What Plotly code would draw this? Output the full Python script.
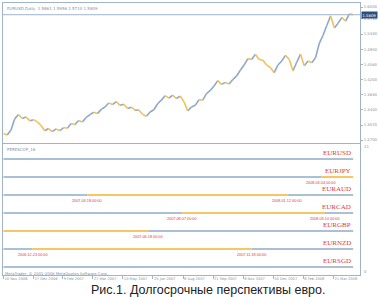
import numpy as np
import plotly.graph_objects as go

W, H = 378, 297

# ---------------- data ----------------
START = "2006-11-10"
HOLIDAYS = ["2006-12-25", "2007-01-01", "2007-12-25", "2008-01-01"]
STEP = 4  # one close read every 4th daily bar

close = [1.2862, 1.2825, 1.2950, 1.3230, 1.3330, 1.3235, 1.3270, 1.3180, 1.3205, 1.3150,
         1.3060, 1.2930, 1.2985, 1.2910, 1.2975, 1.2930, 1.3010, 1.2990, 1.3110, 1.3085,
         1.3185, 1.3150, 1.3260, 1.3330, 1.3390, 1.3355, 1.3460, 1.3520, 1.3620, 1.3580,
         1.3655, 1.3560, 1.3590, 1.3480, 1.3515, 1.3440, 1.3445, 1.3340, 1.3290, 1.3395,
         1.3450, 1.3600, 1.3690, 1.3800, 1.3740, 1.3815, 1.3730, 1.3790, 1.3650, 1.3420,
         1.3520, 1.3560, 1.3700, 1.3690, 1.3850, 1.3930, 1.4040, 1.4175, 1.4080, 1.4130,
         1.4090, 1.4200, 1.4290, 1.4430, 1.4560, 1.4720, 1.4700, 1.4830, 1.4700, 1.4680,
         1.4560, 1.4500, 1.4370, 1.4560, 1.4660, 1.4800, 1.4700, 1.4420, 1.4630, 1.4830,
         1.4540, 1.4660, 1.4620, 1.4740, 1.5100, 1.5300, 1.5540, 1.5780, 1.5480, 1.5600,
         1.5740, 1.5650, 1.5830, 1.5809]

title_text = "EURUSD,Daily  1.5861 1.5956 1.5710 1.5809"
last_price = 1.5809
price_ticks = [1.6000, 1.5710, 1.5330, 1.4950, 1.4580, 1.4200, 1.3830, 1.3450, 1.3070, 1.2700]

date_ticks = ["2006-11-10", "2006-12-27", "2007-02-09", "2007-03-27", "2007-05-10", "2007-06-25",
              "2007-08-08", "2007-09-21", "2007-11-06", "2007-12-20", "2008-02-06", "2008-03-21"]
date_labels = ["10 Nov 2006", "27 Dec 2006", "9 Feb 2007", "27 Mar 2007", "10 May 2007", "25 Jun 2007",
               "8 Aug 2007", "21 Sep 2007", "6 Nov 2007", "20 Dec 2007", "6 Feb 2008", "21 Mar 2008"]

indicator_name = "PERESCOP_16"
pairs = ["EURUSD", "EURJPY", "EURAUD", "EURCAD", "EURGBP", "EURNZD", "EURSGD"]
levels = [7, 6, 5, 4, 3, 2, 1]
start_up = [True, True, True, True, False, True, True]
switch_dates = [[], ["2008.03.04 00:00"], ["2007.03.18 00:00", "2008.01.12 00:00"],
                ["2007.08.07 00:00", "2008.03.10 00:00"], ["2007.06.18 00:00"],
                ["2006.12.23 00:00", "2007.11.18 00:00"], []]

copyright_text = "MetaTrader, © 2001-2008 MetaQuotes Software Corp."
caption = "Рис.1. Долгосрочные перспективы евро."

# ---------------- styles ----------------
BORDER = "#9fb4c9"
BLUE = "#8fa9c6"
YELLOW = "#f2c15a"
LBLUE = "#a9c0d6"
LYELLOW = "#f5c663"
RED = "#e2383b"
GRAY = "#7f8fa0"
MTFONT = "DejaVu Sans"


def bar(d):
    d = d.split(" ")[0].replace(".", "-")
    return int(np.busday_count(START, d, holidays=HOLIDAYS))


xs = [i * STEP for i in range(len(close))]

fig = go.Figure()

# price line, rising pieces blue, falling pieces yellow
up_x, up_y, dn_x, dn_y = [], [], [], []
for i in range(1, len(close)):
    if close[i] >= close[i - 1]:
        up_x += [xs[i - 1], xs[i], None]
        up_y += [close[i - 1], close[i], None]
    else:
        dn_x += [xs[i - 1], xs[i], None]
        dn_y += [close[i - 1], close[i], None]
fig.add_trace(go.Scatter(x=up_x, y=up_y, mode="lines", line=dict(color=BLUE, width=1.6),
                         xaxis="x", yaxis="y", hoverinfo="skip"))
fig.add_trace(go.Scatter(x=dn_x, y=dn_y, mode="lines", line=dict(color=YELLOW, width=1.6),
                         xaxis="x", yaxis="y", hoverinfo="skip"))

annotations = []
# indicator lines
x0, x1 = xs[0], xs[-1]
for name, lev, up, sw in zip(pairs, levels, start_up, switch_dates):
    bounds = [x0] + [bar(d) for d in sw] + [x1]
    state = up
    for a, b in zip(bounds[:-1], bounds[1:]):
        fig.add_trace(go.Scatter(x=[a, b], y=[lev, lev], mode="lines",
                                 line=dict(color=LBLUE if state else LYELLOW, width=2),
                                 xaxis="x2", yaxis="y2", hoverinfo="skip"))
        state = not state
    annotations.append(dict(x=x1, y=lev, xref="x2", yref="y2", text=name, showarrow=False,
                            xanchor="right", yanchor="bottom", yshift=0,
                            font=dict(family="Liberation Serif", size=7, color=RED)))
    for d in sw:
        annotations.append(dict(x=bar(d), y=lev, xref="x2", yref="y2", text=d, showarrow=False,
                                xanchor="center", yanchor="top", yshift=-1.5,
                                font=dict(family="Liberation Sans", size=3.8, color=RED)))

# texts
annotations += [
    dict(x=5 / W, y=1 - 4 / H, xref="paper", yref="paper", text=title_text, showarrow=False,
         xanchor="left", yanchor="top", font=dict(family=MTFONT, size=4, color=GRAY)),
    dict(x=5 / W, y=1 - 145 / H, xref="paper", yref="paper", text=indicator_name, showarrow=False,
         xanchor="left", yanchor="top", font=dict(family=MTFONT, size=4, color=GRAY)),
    dict(x=3 / W, y=1 - 268.5 / H, xref="paper", yref="paper", text=copyright_text, showarrow=False,
         xanchor="left", yanchor="top", font=dict(family=MTFONT, size=3.8, color=GRAY)),
    dict(x=362 / W, y=1 - 146 / H, xref="paper", yref="paper", text="11", showarrow=False,
         xanchor="left", yanchor="middle", font=dict(family=MTFONT, size=3.8, color=GRAY)),
    dict(x=362 / W, y=1 - 271 / H, xref="paper", yref="paper", text="0", showarrow=False,
         xanchor="left", yanchor="middle", font=dict(family=MTFONT, size=3.8, color=GRAY)),
    dict(x=360.5 / W, y=last_price, xref="paper", yref="y", text="%.4f" % last_price, showarrow=False,
         xanchor="left", yanchor="middle", bgcolor="#2c4f80", borderpad=0.5,
         font=dict(family=MTFONT, size=3.8, color="white")),
    dict(x=208 / W, y=1 - 290 / H, xref="paper", yref="paper", text=caption, showarrow=False,
         xanchor="center", yanchor="middle", font=dict(family="Liberation Sans", size=12.5, color="#222222")),
]

shapes = [dict(type="line", xref="x domain", yref="y", x0=0, x1=1, y0=last_price, y1=last_price,
               line=dict(color=BORDER, width=1))]

dom_x = [3 / W, 360 / W]
fig.update_layout(
    width=W, height=H, margin=dict(l=0, r=0, t=0, b=0),
    paper_bgcolor="white", plot_bgcolor="white", showlegend=False,
    xaxis=dict(domain=dom_x, range=[-0.5, 379.3], anchor="y", showline=True, mirror=True,
               linecolor=BORDER, linewidth=1, showgrid=False, zeroline=False,
               showticklabels=False, ticks=""),
    yaxis=dict(domain=[1 - 143 / H, 1 - 3 / H], range=[1.2626, 1.6100], anchor="x", side="right",
               showline=True, mirror=True, linecolor=BORDER, linewidth=1, showgrid=False,
               zeroline=False, tickvals=price_ticks, tickformat=".4f", ticks="outside", ticklen=2,
               tickcolor=BORDER, tickfont=dict(family=MTFONT, size=3.8, color=GRAY)),
    xaxis2=dict(domain=dom_x, matches="x", anchor="y2", showline=True, mirror=True,
                linecolor=BORDER, linewidth=1, showgrid=False, zeroline=False,
                tickvals=[bar(d) for d in date_ticks], ticktext=date_labels, tickangle=0,
                ticklabelposition="outside right", ticks="outside", ticklen=3, tickcolor=BORDER,
                tickfont=dict(family=MTFONT, size=3.6, color=GRAY)),
    yaxis2=dict(domain=[1 - 275 / H, 1 - 144 / H], range=[0.556, 7.833], anchor="x2", side="right",
                showline=True, mirror=True, linecolor=BORDER, linewidth=1, showgrid=False,
                zeroline=False, showticklabels=False, ticks=""),
    annotations=annotations, shapes=shapes,
)

fig.write_html("out.html")
